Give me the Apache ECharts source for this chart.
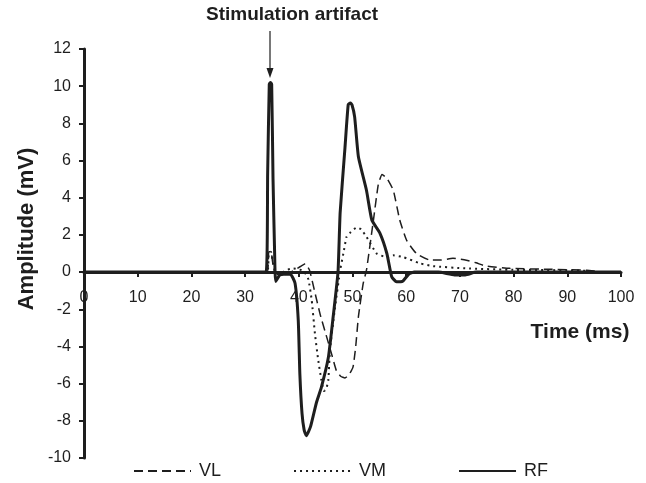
<!DOCTYPE html>
<html>
<head>
<meta charset="utf-8">
<script src="https://cdn.jsdelivr.net/npm/echarts@6/dist/echarts.min.js"></script>
<style>
  html, body { margin: 0; padding: 0; background: #fff; }
  #chart { width: 646px; height: 483px; }
</style>
</head>
<body>
<div id="chart"></div>
<script>
// Axis ranges and tick spacing
const timeMin = 0, timeMax = 100, timeStep = 10;
const ampMin = -10, ampMax = 12, ampStep = 2;

// Legend / series names
const seriesNames = ['VL', 'VM', 'RF'];

// VL (vastus lateralis) – time (ms) and amplitude (mV)
const vlTime = [0, 34.1, 34.4, 34.8, 35.2, 35.6, 36.5, 38.5, 40.3, 41.2, 42.0, 43.0, 44.0, 45.2, 46.2, 47.0, 47.8, 48.6, 49.4, 50.1, 50.6, 51.1, 52.0, 52.6, 53.9, 54.8, 55.5, 56.4, 57.6, 58.8, 60.1, 61.9, 64.4, 66.5, 68.7, 71.2, 73.0, 74.9, 79.3, 86.8, 93.6, 95.5];
const vlAmp  = [0, 0, 1.1, 1.1, 0.4, 0, -0.2, 0, 0.3, 0.45, 0.1, -1.1, -2.3, -3.5, -4.5, -5.3, -5.6, -5.7, -5.5, -5.1, -4.0, -2.4, -0.6, 0.1, 2.8, 4.7, 5.25, 5.05, 4.4, 2.8, 1.7, 1.0, 0.65, 0.65, 0.74, 0.64, 0.5, 0.32, 0.2, 0.15, 0.1, 0.05];

// VM (vastus medialis)
const vmTime = [0, 34.1, 34.4, 34.8, 35.2, 35.6, 36.5, 37.6, 39.0, 40.5, 41.3, 41.8, 42.4, 43.0, 43.6, 44.2, 44.7, 45.1, 45.5, 45.8, 46.7, 47.7, 48.3, 48.9, 49.5, 50.8, 51.6, 52.6, 54.5, 56.4, 57.6, 59.5, 62.6, 65.0, 71.0, 80.0, 90.0, 95.0];
const vmAmp  = [0, 0, 1.0, 1.1, 0.5, 0, -0.1, 0.1, 0.2, 0.1, -0.1, -0.4, -1.5, -3.3, -4.7, -5.8, -6.4, -6.3, -5.8, -4.2, -2.0, 0.1, 1.0, 1.9, 2.1, 2.4, 2.3, 1.9, 1.0, 0.8, 0.9, 0.8, 0.47, 0.32, 0.2, 0.12, 0.1, 0.05];

// RF (rectus femoris)
const rfTime = [0, 33.9, 34.2, 34.5, 34.7, 34.95, 35.2, 35.5, 35.7, 36.5, 38.4, 39.3, 39.9, 40.2, 40.6, 41.0, 41.4, 42.2, 43.3, 44.2, 45.5, 46.4, 47.3, 47.7, 48.6, 49.2, 49.6, 49.9, 50.4, 51.1, 52.6, 53.6, 55.1, 56.4, 57.3, 58.2, 59.3, 60.5, 61.5, 66.0, 69.0, 71.0, 73.0, 80.0, 100.0];
const rfAmp  = [0, 0, 5.3, 10.1, 10.2, 10.1, 5.0, 1.0, -0.5, -0.15, -0.1, -0.6, -2.6, -5.5, -7.6, -8.5, -8.8, -8.3, -7.0, -6.2, -4.6, -2.4, 0, 3.2, 6.7, 9.0, 9.1, 9.0, 8.35, 6.2, 4.4, 2.8, 2.1, 1.0, -0.25, -0.52, -0.5, -0.1, 0, 0, -0.15, -0.15, 0, 0, 0];

const pairs = (t, v) => t.map((x, i) => [x, v[i]]);

const ink = '#1e1e1e';
const font = 'Liberation Sans, Arial, sans-serif';

// plot area
const W = 646, H = 483;
const gridLeft = 84, gridRight = 25, gridTop = 49, gridBottom = 25;
const plotH = H - gridTop - gridBottom;
// lift the time axis (line, ticks and labels) from the bottom edge up to amplitude 0
const zeroLift = -plotH * (0 - ampMin) / (ampMax - ampMin);

const chart = echarts.init(document.getElementById('chart'), null, { renderer: 'canvas' });

chart.setOption({
  animation: false,
  backgroundColor: '#fff',
  grid: { left: gridLeft, right: gridRight, top: gridTop, bottom: gridBottom, containLabel: false },
  legend: {
    data: seriesNames,
    left: 128,
    top: 457,
    itemWidth: 57,
    itemHeight: 16,
    itemGap: 72,
    // line-only keys: hide the marker drawn on the legend line
    itemStyle: { opacity: 0 },
    textStyle: { color: ink, fontSize: 18, fontFamily: font, padding: [0, 0, 0, 3] }
  },
  xAxis: {
    type: 'value',
    position: 'bottom',
    offset: zeroLift,
    min: timeMin, max: timeMax, interval: timeStep,
    axisLine: { show: true, onZero: false, lineStyle: { color: ink, width: 3 } },
    axisTick: { show: true, length: 5, lineStyle: { color: ink, width: 2 } },
    axisLabel: { color: ink, fontSize: 16, fontFamily: font, margin: 18, showMinLabel: true, showMaxLabel: true },
    splitLine: { show: false }
  },
  yAxis: {
    type: 'value',
    min: ampMin, max: ampMax, interval: ampStep,
    axisLine: { show: true, onZero: false, lineStyle: { color: ink, width: 3 } },
    axisTick: { show: true, length: 5, lineStyle: { color: ink, width: 2 } },
    axisLabel: { color: ink, fontSize: 16, fontFamily: font, margin: 13 },
    splitLine: { show: false }
  },
  series: [
    {
      name: 'VL', type: 'line', symbol: 'none', smooth: 0.15,
      data: pairs(vlTime, vlAmp),
      lineStyle: { color: ink, width: 1.5, type: [9, 5] },
      itemStyle: { color: ink }
    },
    {
      name: 'VM', type: 'line', symbol: 'none', smooth: 0.15,
      data: pairs(vmTime, vmAmp),
      lineStyle: { color: ink, width: 2, type: [2, 4] },
      itemStyle: { color: ink }
    },
    {
      name: 'RF', type: 'line', symbol: 'none', smooth: 0.15,
      data: pairs(rfTime, rfAmp),
      lineStyle: { color: ink, width: 3 },
      itemStyle: { color: ink }
    }
  ],
  graphic: [
    {
      type: 'text', left: 206, top: 5,
      style: { text: 'Stimulation artifact', fill: ink, font: 'bold 19px ' + font }
    },
    {
      type: 'line',
      shape: { x1: 270, y1: 31, x2: 270, y2: 69 },
      style: { stroke: ink, lineWidth: 1.2 }
    },
    {
      type: 'polygon',
      shape: { points: [[266.5, 68], [273.5, 68], [270, 78]] },
      style: { fill: ink }
    },
    {
      type: 'text', x: 27, y: 229, rotation: Math.PI / 2,
      style: { text: 'Amplitude (mV)', fill: ink, font: 'bold 22px ' + font, align: 'center', verticalAlign: 'middle' }
    },
    {
      type: 'text', x: 580, y: 332,
      style: { text: 'Time (ms)', fill: ink, font: 'bold 21px ' + font, align: 'center', verticalAlign: 'middle' }
    }
  ]
});
</script>
</body>
</html>
